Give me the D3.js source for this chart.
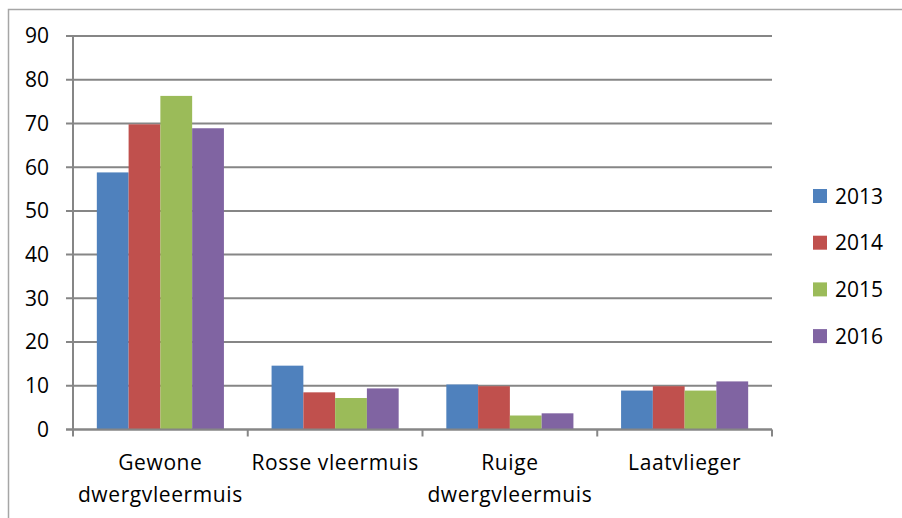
<!DOCTYPE html>
<html>
<head>
<meta charset="utf-8">
<style>
  body { margin: 0; background: #fff; }
  svg text { font-family: "Open Sans", sans-serif; font-size: 21px; fill: #000; }
  .cat text { letter-spacing: 0.6px; }
  .grid line { stroke: #868686; stroke-width: 2; }
</style>
</head>
<body>
<svg width="902" height="518"></svg>
<script src="https://d3js.org/d3.v7.min.js"></script>
<script>
var categories = [["Gewone", "dwergvleermuis"], ["Rosse vleermuis"], ["Ruige", "dwergvleermuis"], ["Laatvlieger"]];
var years = ["2013", "2014", "2015", "2016"];
var v2013 = [58.8, 14.6, 10.3, 8.9];
var v2014 = [69.8, 8.5, 9.9, 9.9];
var v2015 = [76.3, 7.2, 3.2, 8.9];
var v2016 = [68.9, 9.4, 3.7, 11.0];
var yTicks = [0, 10, 20, 30, 40, 50, 60, 70, 80, 90];
var colors = ["#4f81bd", "#c0504d", "#9bbb59", "#8064a2"];

var series = [v2013, v2014, v2015, v2016];
var catKeys = categories.map(function(c) { return c.join(" "); });

var svg = d3.select("svg");

// outer chart border, running off the right and bottom
svg.append("rect")
  .attr("x", 8.5).attr("y", 9.5)
  .attr("width", 1000).attr("height", 1000)
  .attr("fill", "none").attr("stroke", "#a6a6a6").attr("stroke-width", 1.5);

var plot = { left: 73, right: 772, top: 36, bottom: 429.5 };

var x0 = d3.scaleBand().domain(catKeys).range([plot.left, plot.right]).padding(0);
var x1 = d3.scaleBand().domain(years).range([0, x0.bandwidth()]).paddingInner(0).paddingOuter(0.75);
var y = d3.scaleLinear().domain([0, 90]).range([plot.bottom, plot.top]);

// gridlines
svg.append("g").attr("class", "grid")
  .selectAll("line").data(yTicks).enter().append("line")
  .attr("x1", plot.left - 7).attr("x2", plot.right)
  .attr("y1", function(d) { return y(d); })
  .attr("y2", function(d) { return y(d); });

// y labels
svg.append("g").selectAll("text").data(yTicks).enter().append("text")
  .attr("x", 49).attr("y", function(d) { return y(d); })
  .attr("dy", "0.35em").attr("text-anchor", "end")
  .text(function(d) { return d; });

// bars
var groups = svg.append("g").selectAll("g").data(catKeys).enter().append("g")
  .attr("transform", function(d) { return "translate(" + x0(d) + ",0)"; });

groups.selectAll("rect")
  .data(function(d, i) { return years.map(function(yr, j) { return { yr: yr, v: series[j][i], j: j }; }); })
  .enter().append("rect")
  .attr("x", function(d) { return x1(d.yr); })
  .attr("width", x1.bandwidth())
  .attr("y", function(d) { return y(d.v); })
  .attr("height", function(d) { return plot.bottom - y(d.v); })
  .attr("fill", function(d) { return colors[d.j]; });

// axis lines
svg.append("line").attr("x1", plot.left).attr("x2", plot.left).attr("y1", plot.top).attr("y2", plot.bottom)
  .attr("stroke", "#868686").attr("stroke-width", 2);
svg.append("line").attr("x1", plot.left - 7).attr("x2", plot.right).attr("y1", plot.bottom).attr("y2", plot.bottom)
  .attr("stroke", "#868686").attr("stroke-width", 2);

// category tick marks
var sepX = catKeys.map(function(k) { return x0(k); }).concat([plot.right]);
svg.append("g").selectAll("line").data(sepX).enter().append("line")
  .attr("x1", function(d) { return d; }).attr("x2", function(d) { return d; })
  .attr("y1", plot.bottom).attr("y2", plot.bottom + 7)
  .attr("stroke", "#868686").attr("stroke-width", 2);

// category labels
var lbl = svg.append("g").attr("class", "cat").selectAll("text").data(categories).enter().append("text")
  .attr("text-anchor", "middle")
  .attr("x", function(d, i) { return x0(catKeys[i]) + x0.bandwidth() / 2; })
  .attr("y", 470);
lbl.selectAll("tspan").data(function(d) { return d; }).enter().append("tspan")
  .attr("x", function() { return d3.select(this.parentNode).attr("x"); })
  .attr("dy", function(d, i) { return i === 0 ? 0 : 32; })
  .text(function(d) { return d; });

// legend
var leg = svg.append("g").selectAll("g").data(years).enter().append("g")
  .attr("transform", function(d, i) { return "translate(813," + (189 + i * 46.7) + ")"; });
leg.append("rect").attr("width", 14).attr("height", 14)
  .attr("fill", function(d, i) { return colors[i]; });
leg.append("text").attr("x", 22).attr("y", 7).attr("dy", "0.36em")
  .text(function(d) { return d; });
</script>
</body>
</html>
